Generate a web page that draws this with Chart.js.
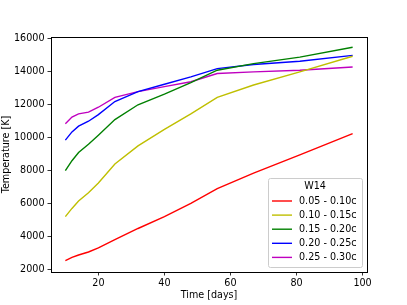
<!DOCTYPE html>
<html><head><meta charset="utf-8">
<script src="https://cdn.jsdelivr.net/npm/chart.js@4.4.0/dist/chart.umd.min.js"></script>
<style>html,body{margin:0;padding:0;background:#fff;}#wrap{width:407px;height:305px;}</style>
</head><body><div id="wrap"><canvas id="c" width="407" height="305"></canvas></div>
<script>
const days = [10, 12, 14, 17, 20, 25, 32, 40, 48, 56, 67, 81, 97];
const seriesLabels = ["0.05 - 0.10c", "0.10 - 0.15c", "0.15 - 0.20c", "0.20 - 0.25c", "0.25 - 0.30c"];
const tRed     = [2530, 2720, 2870, 3050, 3300, 3800, 4480, 5200, 6000, 6900, 7850, 8950, 10250];
const tYellow  = [5200, 5700, 6150, 6650, 7250, 8400, 9500, 10500, 11450, 12450, 13200, 14000, 14950];
const tGreen   = [8000, 8600, 9100, 9600, 10150, 11100, 12000, 12650, 13350, 14100, 14500, 14900, 15500];
const tBlue    = [9850, 10350, 10700, 11000, 11400, 12200, 12800, 13250, 13700, 14200, 14450, 14650, 15000];
const tMagenta = [10850, 11250, 11450, 11550, 11850, 12450, 12800, 13100, 13400, 13900, 14000, 14100, 14300];
const xTicks = [20, 40, 60, 80, 100];
const yTicks = [2000, 4000, 6000, 8000, 10000, 12000, 14000, 16000];
const legendTitle = "W14";

const colors = ["#ff0000", "#bfbf00", "#008000", "#0000ff", "#bf00bf"];
const allSeries = [tRed, tYellow, tGreen, tBlue, tMagenta];
const FONT = "DejaVu Sans";
const FS = 9.6;

const datasets = allSeries.map((s, i) => ({
  label: seriesLabels[i],
  data: days.map((d, j) => ({x: d, y: s[j]})),
  borderColor: colors[i],
  backgroundColor: colors[i],
  borderWidth: 1.4,
  pointRadius: 0,
  tension: 0,
  fill: false
}));

const framePlugin = {
  id: 'frame',
  afterDraw(chart) {
    const ctx = chart.ctx, a = chart.chartArea;
    ctx.save();
    ctx.strokeStyle = '#000';
    ctx.lineWidth = 1;
    ctx.strokeRect(Math.round(a.left) + 0.5, Math.round(a.top) + 0.5, Math.round(a.right - a.left), Math.round(a.bottom - a.top));
    // legend
    const bx = 268, by = 178, bw = 94, bh = 89;
    ctx.fillStyle = 'rgba(255,255,255,0.8)';
    ctx.strokeStyle = '#cccccc';
    ctx.lineWidth = 1;
    ctx.beginPath();
    if (ctx.roundRect) ctx.roundRect(bx + 0.5, by + 0.5, bw, bh, 2); else ctx.rect(bx + 0.5, by + 0.5, bw, bh);
    ctx.fill(); ctx.stroke();
    ctx.font = FS + 'px "' + FONT + '"';
    ctx.fillStyle = '#000';
    ctx.textBaseline = 'middle';
    ctx.textAlign = 'center';
    ctx.fillText(legendTitle, bx + bw / 2, 186);
    ctx.textAlign = 'left';
    chart.data.datasets.forEach((ds, i) => {
      const y = 201 + i * 14.1;
      ctx.strokeStyle = ds.borderColor;
      ctx.lineWidth = 1.4;
      ctx.beginPath(); ctx.moveTo(272, y); ctx.lineTo(292, y); ctx.stroke();
      ctx.fillStyle = '#000';
      ctx.fillText(ds.label, 299, y + 0.5);
    });
    ctx.restore();
  }
};

new Chart(document.getElementById('c'), {
  type: 'line',
  data: { datasets },
  options: {
    responsive: false,
    animation: false,
    devicePixelRatio: 1,
    layout: { padding: { left: 1, right: 40, top: 37, bottom: 4 } },
    plugins: { legend: { display: false }, tooltip: { enabled: false } },
    scales: {
      x: {
        type: 'linear',
        min: 5.65, max: 101.35,
        afterBuildTicks: s => { s.ticks = xTicks.map(v => ({value: v})); },
        afterFit: s => { s.height = 29; },
        grid: { display: true, drawOnChartArea: false, drawTicks: true, tickLength: 3.5, color: '#000', lineWidth: 0.8 },
        border: { display: false },
        ticks: { color: '#000', font: { family: FONT, size: FS }, padding: 2, maxRotation: 0, autoSkip: false },
        title: { display: true, text: 'Time [days]', color: '#000', font: { family: FONT, size: FS }, padding: { top: 1, bottom: 0 } }
      },
      y: {
        type: 'linear',
        min: 1835, max: 16120,
        afterBuildTicks: s => { s.ticks = yTicks.map(v => ({value: v})); },
        afterFit: s => { s.width = 50; },
        grid: { display: true, drawOnChartArea: false, drawTicks: true, tickLength: 3.5, color: '#000', lineWidth: 0.8 },
        border: { display: false },
        ticks: { color: '#000', font: { family: FONT, size: FS }, padding: 3, autoSkip: false, callback: v => String(v) },
        title: { display: true, text: 'Temperature [K]', color: '#000', font: { family: FONT, size: FS }, padding: { top: 0, bottom: 0 } }
      }
    }
  },
  plugins: [framePlugin]
});
</script></body></html>
